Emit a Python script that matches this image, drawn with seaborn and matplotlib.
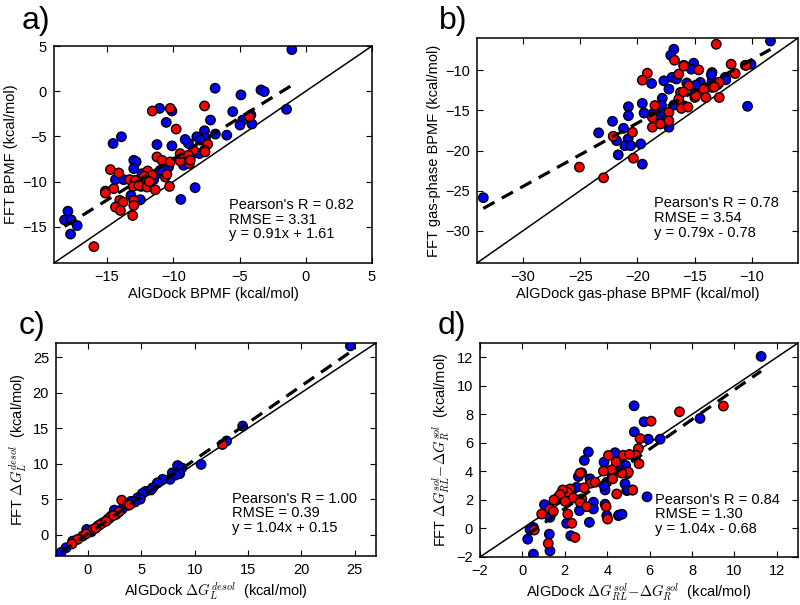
import matplotlib
matplotlib.use("Agg")
import matplotlib.pyplot as plt
import numpy as np
import pandas as pd
import seaborn as sns

# ---------------- data ----------------
# panel a: BPMF
a_blue_x = [-1.05, -6.84, -4.89, -3.38, -3.13, -1.45, -5.51, -4.14, -4.76, -4.96, -4.06, -7.19, -7.64,
            -6.82, -5.96, -7.57, -11.03, -10.1, -10.53, -14.54, -13.91, -11.23, -10.1, -12.98, -12.8,
            -9.23, -8.6, -12.98, -12.36, -11.23, -10.98, -10.35, -14.36, -13.74, -11.48, -12.43,
            -15.12, -13.19, -12.48, -9.43, -8.35, -17.95, -18.2, -17.7, -17.25, -17.75, -8.22, -8.85,
            -9.1, -8.02, -7.97]
a_blue_y = [4.6, 0.33, -0.41, 0.14, -0.04, -2.0, -2.26, -2.63, -3.19, -3.74, -3.63, -3.19, -4.37,
            -4.74, -4.86, -5.15, -1.9, -2.19, -3.45, -5.78, -5.04, -5.9, -6.04, -7.64, -7.8,
            -8.19, -7.0, -8.56, -9.12, -9.12, -8.75, -8.38, -9.78, -9.78, -9.78, -10.53,
            -11.05, -11.53, -12.0, -11.97, -10.67, -13.27, -14.23, -14.23, -14.86, -15.8, -5.04, -5.78,
            -5.34, -6.9, -5.41]
a_red_x = [-7.64, -4.26, -7.4, -7.64, -11.58, -10.23, -9.78, -11.23, -10.85, -10.23, -9.48, -8.78,
           -14.74, -14.11, -11.93, -11.6, -10.6, -10.48, -13.29, -12.86, -13.03, -12.6, -11.98, -11.36,
           -10.28, -14.49, -15.12, -12.98, -14.04, -13.79, -14.36, -13.99, -12.98, -13.06, -15.99,
           -8.47, -9.48, -8.85, -8.72, -7.6, -12.2, -11.8]
a_red_y = [-1.63, -2.82, -5.86, -6.52, -2.19, -1.9, -4.19, -7.27, -7.64, -7.82, -7.71, -8.0,
           -8.67, -9.04, -8.82, -9.3, -9.5, -9.2, -9.78, -9.86, -10.53, -10.41, -10.6, -10.9,
           -10.53, -10.78, -11.27, -12.08, -12.08, -12.27, -12.82, -13.19, -12.63, -13.75, -17.19,
           -6.53, -6.9, -7.08, -7.64, -6.71, -9.4, -10.0]

# panel b: gas-phase BPMF
b_blue_x = [-33.45, -23.39, -22.18, -21.83, -21.68, -21.22, -20.79, -20.79, -20.82, -21.1, -20.6,
            -8.4, -16.83, -17.1, -18.77, -17.7, -16.98, -15.96, -15.1, -15.3, -13.5, -10.1, -12.35,
            -13.5, -14.52, -14.9, -10.4, -17.26, -15.96, -16.83, -17.84, -17.9, -18.7, -18.13, -19.43,
            -19.58, -17.26, -19.58, -19.72, -18.2, -17.6, -17.4, -17.6, -16.2, -16.6, -15.7, -15.0,
            -14.0, -13.0, -12.3, -13.56, -10.6]
b_blue_y = [-25.87, -17.8, -16.37, -18.77, -20.54, -17.24, -14.55, -15.67, -18.56, -19.4, -19.4,
            -6.37, -7.4, -8.15, -11.66, -11.33, -10.9, -9.39, -9.14, -9.88, -10.3, -9.26, -10.9,
            -11.33, -11.53, -11.86, -14.5, -12.36, -14.43, -14.35, -13.5, -14.4, -15.46, -15.87, -15.34,
            -14.14, -17.1, -21.7, -19.18, -15.1, -15.4, -16.0, -16.5, -14.4, -11.1, -11.6, -12.9,
            -12.2, -11.8, -11.2, -10.58, -9.4]
b_red_x = [-25.07, -22.96, -22.12, -20.44, -20.36, -13.13, -16.77, -19.14, -19.58, -16.4, -15.96,
           -14.66, -11.83, -10.53, -11.48, -12.87, -13.5, -14.23, -15.53, -14.03, -15.0, -12.87,
           -16.25, -16.4, -16.17, -17.26, -18.48, -18.7, -18.7, -18.0, -17.26, -16.0, -15.6, -13.3, -14.9]
b_red_y = [-22.07, -23.4, -18.23, -17.73, -20.96, -6.78, -8.77, -10.38, -11.25, -10.5, -9.5,
           -9.97, -9.26, -9.39, -10.42, -11.5, -12.15, -12.36, -11.95, -13.4, -13.4, -13.4,
           -12.77, -13.6, -14.76, -15.25, -14.4, -15.87, -17.1, -16.7, -16.3, -12.7, -14.6, -12.1, -13.2]

# panel c: ligand desolvation
c_blue_x = [24.6, 14.5, 13.0, 10.6, 8.4, 8.8, 7.9, 7.7, 7.0, 6.5, 6.06, 5.4, 5.1, 4.66, 4.03, 3.7,
            2.47, 1.84, -0.12, -1.44, -2.06, -2.53, 4.9, 3.2, 2.0, 0.3, 5.9, 4.4, 8.6, 8.2]
c_blue_y = [26.6, 15.3, 13.2, 9.9, 9.74, 9.4, 8.7, 7.8, 7.8, 7.3, 6.6, 6.1, 5.8, 5.2, 4.7, 4.1,
            3.46, 2.15, 0.74, -0.9, -1.84, -2.5, 5.0, 3.6, 2.3, 0.4, 6.3, 4.6, 8.6, 8.4]
c_red_x = [12.6, 3.16, 3.72, 2.63, 2.16, 1.38, 0.9, 0.44, -0.5, -0.97, 1.1, 2.9, 0.7, -0.2, 1.7,
           2.4, 3.9, -1.5]
c_red_y = [12.7, 4.87, 4.26, 2.85, 2.62, 1.68, 1.2, 0.74, -0.2, -0.66, 1.4, 3.2, 0.9, 0.1, 1.9,
           2.7, 4.2, -1.3]

# panel d: solvation difference
d_blue_x = [11.26, 5.27, 8.38, 5.74, 5.28, 5.94, 6.5, 5.3, 3.11, 2.92, 3.85, 4.37, 4.87, 4.53, 4.21,
            3.98, 4.84, 4.92, 3.9, 3.85, 3.9, 4.53, 3.98, 2.8, 2.64, 3.19, 2.56, 2.17, 3.35, 3.35,
            1.66, 1.18, 1.04, 1.15, 2.69, 2.09, 3.16, 1.3, 0.52, 0.36, 0.25, 1.27, 1.3, 2.28, 0.52,
            5.88, 4.99, 4.55, 4.7]
d_blue_y = [12.06, 8.6, 7.71, 7.48, 6.77, 6.26, 6.26, 5.1, 5.36, 4.77, 4.65, 5.31, 4.42, 4.18, 3.79,
            3.24, 3.13, 2.66, 2.7, 3.01, 1.7, 0.9, 0.9, 3.9, 3.64, 3.48, 2.89, 2.19, 1.84, 1.37,
            2.14, 1.53, 1.67, 1.01, 1.25, 0.36, 0.43, 0.78, 0.07, -0.09, -0.75, -0.4, -1.57, -0.51, -1.8,
            2.22, 2.69, 0.94, 1.0]
d_red_x = [7.41, 9.48, 6.07, 5.55, 5.47, 5.36, 4.76, 5.5, 4.95, 4.06, 4.42, 5.05, 5.0, 4.69, 4.21,
           3.82, 4.26, 5.2, 4.45, 3.95, 4.02, 2.72, 3.22, 3.43, 2.91, 2.25, 2.12, 1.9, 1.78, 2.4,
           2.8, 2.72, 3.03, 1.49, 2.01, 1.3, 0.91, 1.46, 2.14, 2.33, 0.56, 1.22, 2.48, 5.2]
d_red_y = [8.18, 8.58, 7.52, 6.3, 5.6, 5.13, 5.13, 4.54, 3.84, 5.12, 4.65, 5.19, 3.95, 3.88, 4.11,
           4.02, 3.48, 2.7, 2.42, 1.53, 0.66, 3.88, 3.17, 3.24, 2.85, 2.77, 2.54, 2.7, 2.38, 2.14,
           2.07, 1.84, 1.53, 2.0, 1.9, 1.37, 1.01, 1.2, 1.01, 0.36, -0.11, -1.05, -0.63, 2.69]

# fit statistics shown on each panel
pearson_r = [0.82, 0.78, 1.00, 0.84]
rmse = [3.31, 3.54, 0.39, 1.30]
slopes = [0.91, 0.79, 1.04, 1.04]
intercepts = [1.61, -0.78, 0.15, -0.68]

panel_labels = ["a)", "b)", "c)", "d)"]
xlabels = ["AlGDock BPMF (kcal/mol)",
           "AlGDock gas-phase BPMF (kcal/mol)",
           r"AlGDock $\Delta G_L^{desol}$  (kcal/mol)",
           r"AlGDock $\Delta G_{RL}^{sol}\!-\!\Delta G_R^{sol}$  (kcal/mol)"]
ylabels = ["FFT BPMF (kcal/mol)",
           "FFT gas-phase BPMF (kcal/mol)",
           r"FFT $\Delta G_L^{desol}$  (kcal/mol)",
           r"FFT $\Delta G_{RL}^{sol}\!-\!\Delta G_R^{sol}$  (kcal/mol)"]
limits = [(-19, 5), (-34, -6), (-3, 27), (-2, 13)]
ticks = [[-15, -10, -5, 0, 5],
         [-30, -25, -20, -15, -10],
         [0, 5, 10, 15, 20, 25],
         [-2, 0, 2, 4, 6, 8, 10, 12]]

# ---------------- style ----------------
sns.set_style("ticks")
plt.rcParams.update({
    "font.family": ["Liberation Sans", "DejaVu Sans"],
    "mathtext.fontset": "cm",
    "font.size": 10.5,
    "xtick.direction": "in",
    "ytick.direction": "in",
    "xtick.top": True,
    "ytick.right": True,
    "xtick.major.size": 4.5,
    "ytick.major.size": 4.5,
    "xtick.major.width": 0.8,
    "ytick.major.width": 0.8,
    "xtick.major.pad": 5,
    "ytick.major.pad": 5,
    "xtick.labelsize": 10.5,
    "ytick.labelsize": 10.5,
    "axes.labelsize": 10.5,
    "axes.linewidth": 1.1,
    "axes.edgecolor": "black",
    "xtick.color": "black",
    "ytick.color": "black",
    "text.color": "black",
    "axes.labelcolor": "black",
})

fig = plt.figure(figsize=(8, 6.05), dpi=100)
positions = [
    [54 / 800, (605 - 263) / 605, 318 / 800, 217 / 605],
    [477 / 800, (605 - 263) / 605, 321 / 800, 225 / 605],
    [56 / 800, (605 - 556) / 605, 320 / 800, 213 / 605],
    [480 / 800, (605 - 557) / 605, 318 / 800, 214 / 605],
]
label_pos = [(22, 21), (439, 21), (19, 326), (438, 326)]

datasets = [
    (a_blue_x, a_blue_y, a_red_x, a_red_y),
    (b_blue_x, b_blue_y, b_red_x, b_red_y),
    (c_blue_x, c_blue_y, c_red_x, c_red_y),
    (d_blue_x, d_blue_y, d_red_x, d_red_y),
]

for i, (bx, by, rx, ry) in enumerate(datasets):
    ax = fig.add_axes(positions[i])
    df = pd.DataFrame({
        "x": list(bx) + list(rx),
        "y": list(by) + list(ry),
        "set": ["blue"] * len(bx) + ["red"] * len(rx),
    })
    lo, hi = limits[i]
    ax.plot([lo, hi], [lo, hi], color="black", lw=1.1, zorder=1)
    sns.scatterplot(data=df, x="x", y="y", hue="set",
                    palette={"blue": "#0000ff", "red": "#ff0000"},
                    s=46, edgecolor="black", linewidth=1.0, legend=False,
                    ax=ax, zorder=2)
    xmin, xmax = df["x"].min(), df["x"].max()
    fx = np.array([xmin, xmax])
    ax.plot(fx, slopes[i] * fx + intercepts[i], color="black", lw=2.3,
            dashes=(4.0, 2.6), zorder=3)
    ax.set_xlim(lo, hi)
    ax.set_ylim(lo, hi)
    ax.set_xticks(ticks[i])
    ax.set_yticks(ticks[i])
    ax.set_xlabel(xlabels[i], labelpad=2)
    ax.set_ylabel(ylabels[i], labelpad=3)
    sign = "+" if intercepts[i] >= 0 else "-"
    txt = (f"Pearson's R = {pearson_r[i]:.2f}\nRMSE = {rmse[i]:.2f}\n"
           f"y = {slopes[i]:.2f}x {sign} {abs(intercepts[i]):.2f}")
    ax.text(0.55, 0.2, txt, transform=ax.transAxes, ha="left", va="center",
            fontsize=10.5, linespacing=1.05, zorder=4)
    fig.text(label_pos[i][0] / 800, 1 - label_pos[i][1] / 605, panel_labels[i],
             fontsize=23, ha="left", va="center")

fig.savefig("out.png", dpi=100)
